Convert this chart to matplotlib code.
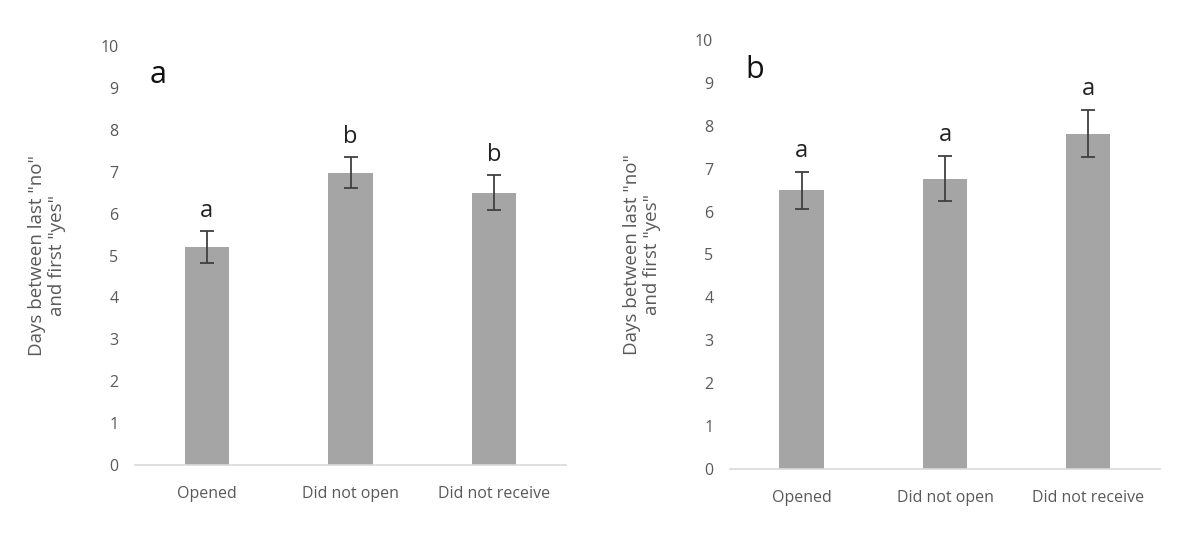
import matplotlib
matplotlib.use("Agg")
import matplotlib.pyplot as plt

plt.rcParams['font.family'] = ['Open Sans', 'DejaVu Sans']

categories = ["Opened", "Did not open", "Did not receive"]
means_a = [5.2, 6.97, 6.5]
err_a = [0.38, 0.37, 0.42]
letters_a = ["a", "b", "b"]
means_b = [6.5, 6.77, 7.82]
err_b = [0.43, 0.53, 0.55]
letters_b = ["a", "a", "a"]
yticks = list(range(0, 11))
ylabel = 'Days between last "no"\nand first "yes"'

fig = plt.figure(figsize=(12, 5.44), dpi=100)
ax_a = fig.add_axes([0.1125, 0.1452, 0.3592, 0.7702])
ax_b = fig.add_axes([0.6083, 0.1379, 0.3583, 0.7886])

bar_color = "#a5a5a5"
txt_color = "#595959"

for ax, means, errs, letters, panel in [
    (ax_a, means_a, err_a, letters_a, "a"),
    (ax_b, means_b, err_b, letters_b, "b"),
]:
    x = list(range(len(categories)))
    ax.bar(x, means, width=0.31, color=bar_color, zorder=2)
    ax.errorbar(x, means, yerr=errs, fmt="none", ecolor="#404040",
                elinewidth=1.3, capsize=5, capthick=1.3, zorder=3)
    for xi, m, e, l in zip(x, means, errs, letters):
        ax.text(xi, m + e + 0.2, l, ha="center", va="bottom",
                fontsize=17, color="#222222")
    ax.set_xlim(-0.5, 2.5)
    ax.set_ylim(0, 10)
    ax.set_yticks(yticks)
    ax.set_xticks(x)
    ax.set_xticklabels(categories)
    for s in ["top", "right", "left"]:
        ax.spines[s].set_visible(False)
    ax.spines["bottom"].set_color("#d9d9d9")
    ax.spines["bottom"].set_linewidth(1.2)
    ax.tick_params(axis="both", length=0, labelsize=11.5, colors=txt_color)
    ax.tick_params(axis="y", pad=12)
    ax.tick_params(axis="x", pad=15)
    ax.set_ylabel(ylabel, fontsize=13.5, color=txt_color, linespacing=1.15)
    ax.yaxis.set_label_coords(-0.16, 0.5)
    ax.text(0.035, 0.93, panel, transform=ax.transAxes, fontsize=22,
            color="#111111", ha="left", va="center")

fig.savefig("out.png", dpi=100, facecolor="white")
